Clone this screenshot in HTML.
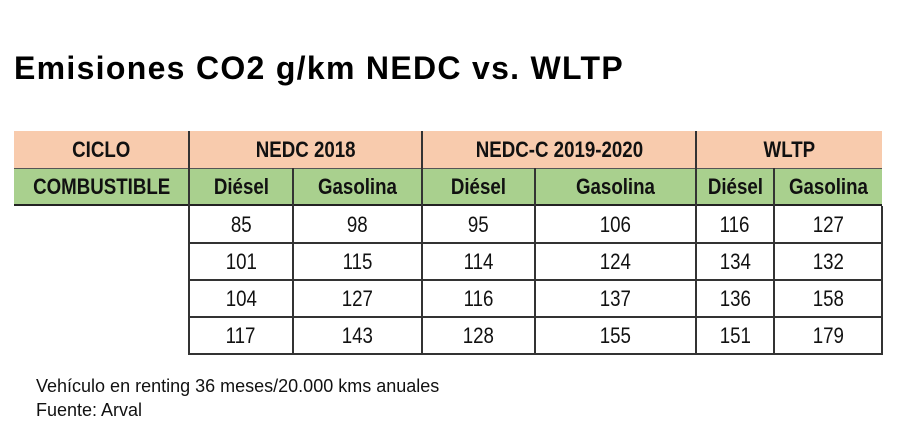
<!DOCTYPE html>
<html><head><meta charset="utf-8"><style>
body{margin:0;width:900px;height:442px;background:#fff;position:relative;overflow:hidden;font-family:"Liberation Sans",sans-serif;}
.t{position:absolute;left:14px;top:50px;font-size:32px;font-weight:bold;color:#000;letter-spacing:1.3px}
.c{position:absolute;display:flex;align-items:center;justify-content:center;font-family:"Liberation Sans",sans-serif;font-size:22px;color:#111;box-sizing:border-box}
.c span{display:inline-block;transform:scaleX(0.85);white-space:nowrap}
.b{font-weight:bold}
.f{position:absolute;left:36px;font-size:18px;color:#111}
</style></head><body>
<div class="t">Emisiones CO2 g/km NEDC vs. WLTP</div>
<div style="position:absolute;left:14px;top:131px;width:868px;height:37px;background:#f8cbad"></div>
<div style="position:absolute;left:14px;top:168px;width:868px;height:38px;background:#a9d08e;border-top:1px solid #555;border-bottom:2px solid #222;box-sizing:border-box"></div>
<div style="position:absolute;left:188px;top:131px;width:2px;height:223px;background:#333"></div>
<div style="position:absolute;left:421px;top:131px;width:2px;height:223px;background:#333"></div>
<div style="position:absolute;left:695px;top:131px;width:2px;height:223px;background:#333"></div>
<div style="position:absolute;left:292px;top:168px;width:2px;height:186px;background:#333"></div>
<div style="position:absolute;left:534px;top:168px;width:2px;height:186px;background:#333"></div>
<div style="position:absolute;left:773px;top:168px;width:2px;height:186px;background:#333"></div>
<div style="position:absolute;left:881px;top:206px;width:2px;height:148px;background:#333"></div>
<div style="position:absolute;left:188px;top:242px;width:695px;height:2px;background:#333"></div>
<div style="position:absolute;left:188px;top:279px;width:695px;height:2px;background:#333"></div>
<div style="position:absolute;left:188px;top:316px;width:695px;height:2px;background:#333"></div>
<div style="position:absolute;left:188px;top:353px;width:695px;height:2px;background:#333"></div>

<div class="c b" style="left:14px;top:131px;width:175px;height:37px"><span>CICLO</span></div>
<div class="c b" style="left:189px;top:131px;width:233px;height:37px"><span>NEDC 2018</span></div>
<div class="c b" style="left:422px;top:131px;width:274px;height:37px"><span>NEDC-C 2019-2020</span></div>
<div class="c b" style="left:696px;top:131px;width:186px;height:37px"><span>WLTP</span></div>

<div class="c b" style="left:14px;top:168px;width:175px;height:38px"><span>COMBUSTIBLE</span></div>
<div class="c b" style="left:189px;top:168px;width:104px;height:38px"><span>Diésel</span></div>
<div class="c b" style="left:293px;top:168px;width:129px;height:38px"><span>Gasolina</span></div>
<div class="c b" style="left:422px;top:168px;width:113px;height:38px"><span>Diésel</span></div>
<div class="c b" style="left:535px;top:168px;width:161px;height:38px"><span>Gasolina</span></div>
<div class="c b" style="left:696px;top:168px;width:78px;height:38px"><span>Diésel</span></div>
<div class="c b" style="left:774px;top:168px;width:108px;height:38px"><span>Gasolina</span></div>

<div class="c" style="left:189px;top:206px;width:104px;height:37px"><span>85</span></div>
<div class="c" style="left:293px;top:206px;width:129px;height:37px"><span>98</span></div>
<div class="c" style="left:422px;top:206px;width:113px;height:37px"><span>95</span></div>
<div class="c" style="left:535px;top:206px;width:161px;height:37px"><span>106</span></div>
<div class="c" style="left:696px;top:206px;width:78px;height:37px"><span>116</span></div>
<div class="c" style="left:774px;top:206px;width:108px;height:37px"><span>127</span></div>

<div class="c" style="left:189px;top:243px;width:104px;height:37px"><span>101</span></div>
<div class="c" style="left:293px;top:243px;width:129px;height:37px"><span>115</span></div>
<div class="c" style="left:422px;top:243px;width:113px;height:37px"><span>114</span></div>
<div class="c" style="left:535px;top:243px;width:161px;height:37px"><span>124</span></div>
<div class="c" style="left:696px;top:243px;width:78px;height:37px"><span>134</span></div>
<div class="c" style="left:774px;top:243px;width:108px;height:37px"><span>132</span></div>

<div class="c" style="left:189px;top:280px;width:104px;height:37px"><span>104</span></div>
<div class="c" style="left:293px;top:280px;width:129px;height:37px"><span>127</span></div>
<div class="c" style="left:422px;top:280px;width:113px;height:37px"><span>116</span></div>
<div class="c" style="left:535px;top:280px;width:161px;height:37px"><span>137</span></div>
<div class="c" style="left:696px;top:280px;width:78px;height:37px"><span>136</span></div>
<div class="c" style="left:774px;top:280px;width:108px;height:37px"><span>158</span></div>

<div class="c" style="left:189px;top:317px;width:104px;height:37px"><span>117</span></div>
<div class="c" style="left:293px;top:317px;width:129px;height:37px"><span>143</span></div>
<div class="c" style="left:422px;top:317px;width:113px;height:37px"><span>128</span></div>
<div class="c" style="left:535px;top:317px;width:161px;height:37px"><span>155</span></div>
<div class="c" style="left:696px;top:317px;width:78px;height:37px"><span>151</span></div>
<div class="c" style="left:774px;top:317px;width:108px;height:37px"><span>179</span></div>

<div class="f" style="top:376px">Vehículo en renting 36 meses/20.000 kms anuales</div>
<div class="f" style="top:400px">Fuente: Arval</div>
</body></html>
